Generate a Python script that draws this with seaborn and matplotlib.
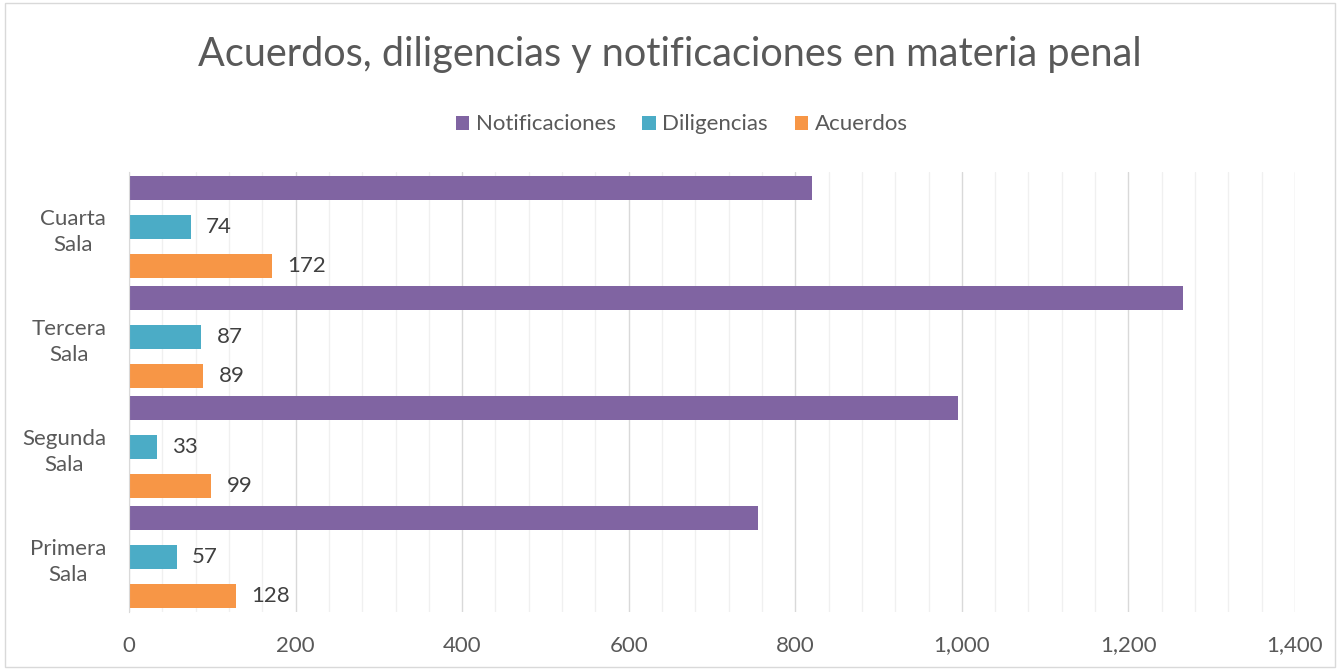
import numpy as np
import pandas as pd
import matplotlib.pyplot as plt
import seaborn as sns
from matplotlib.patches import Rectangle
from matplotlib.ticker import MultipleLocator, FuncFormatter

# datos
salas = ["Cuarta Sala", "Tercera Sala", "Segunda Sala", "Primera Sala"]
series = ["Notificaciones", "Diligencias", "Acuerdos"]
notificaciones = [820, 1265, 995, 755]
diligencias = [74, 87, 33, 57]
acuerdos = [172, 89, 99, 128]
colores = ["#8064A2", "#4BACC6", "#F79646"]

df = pd.DataFrame({
    "sala": salas * 3,
    "serie": [s for s in series for _ in salas],
    "valor": notificaciones + diligencias + acuerdos,
})

sns.set_style("white")
plt.rcParams["font.family"] = ["Lato", "DejaVu Sans"]
gris = "#595959"

fig = plt.figure(figsize=(13.4, 6.7), dpi=100)
ax = fig.add_axes([0.0963, 0.0866, 0.8701, 0.6567])

sns.barplot(
    data=df, x="valor", y="sala", hue="serie",
    order=salas, hue_order=series, palette=colores, saturation=1,
    width=1.064, gap=0.385, errorbar=None, linewidth=0, ax=ax,
)

# etiquetas solo para diligencias y acuerdos
for cont in ax.containers[1:]:
    ax.bar_label(cont, fmt="%d", padding=11, fontsize=16, color="#404040")

ax.set_xlim(0, 1400)
ax.xaxis.set_major_locator(MultipleLocator(200))
ax.xaxis.set_minor_locator(MultipleLocator(40))
ax.xaxis.set_major_formatter(FuncFormatter(lambda v, p: f"{int(v):,}"))
ax.grid(axis="x", which="major", color="#D9D9D9", linewidth=1)
ax.grid(axis="x", which="minor", color="#F0F0F0", linewidth=1)
ax.set_axisbelow(True)
ax.tick_params(axis="x", which="both", length=0, pad=17, labelsize=16, labelcolor=gris)

ax.set_yticks(range(len(salas)))
ax.set_yticklabels([s.replace(" ", "\n") for s in salas], ha="right",
                   multialignment="center", linespacing=1.35)
ax.set_yticks(np.arange(-0.5, len(salas), 1), minor=True)
ax.tick_params(axis="y", which="major", length=0, pad=16.5, labelsize=16, labelcolor=gris)
ax.tick_params(axis="y", which="minor", length=6, width=1, color="#D9D9D9", direction="out")

for side in ["top", "right", "bottom"]:
    ax.spines[side].set_visible(False)
ax.spines["left"].set_color("#D9D9D9")
ax.set_xlabel("")
ax.set_ylabel("")

handles, labels = ax.get_legend_handles_labels()
ax.legend(
    handles, labels, loc="center", bbox_to_anchor=(0.474, 1.108), ncol=3,
    frameon=False, fontsize=16, labelcolor=gris, handlelength=0.6,
    handleheight=0.6, handletextpad=0.3, columnspacing=1.2,
)

fig.text(0.5, 0.918, "Acuerdos, diligencias y notificaciones en materia penal",
         ha="center", va="center", fontsize=28.5, color=gris)

fig.patches.append(Rectangle((0.004, 0.004), 0.992, 0.992, transform=fig.transFigure,
                             fill=False, edgecolor="#D9D9D9", linewidth=1))

fig.savefig("out.png", dpi=100)
